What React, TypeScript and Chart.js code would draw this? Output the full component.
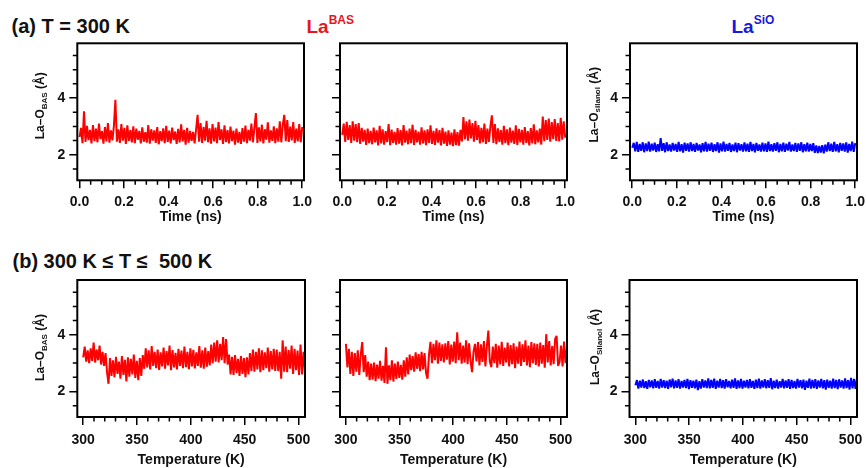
import React, { useEffect, useRef } from 'react';
import { Chart, registerables } from 'chart.js';

Chart.register(...registerables);

const FONT = 'Arial, "Liberation Sans", Helvetica, sans-serif';
const RED = '#ff0000';
const BLUE = '#0000ff';

// ---- sampling grids (MD frames) ----
const SAMPLES = 150;
const timeNs = Array.from({ length: SAMPLES }, (_, i) => i / (SAMPLES - 1));
const temperatureK = Array.from({ length: SAMPLES }, (_, i) => 300 + (206 * i) / (SAMPLES - 1));

// ---- axis ticks ----
const timeMajorTicks = [0, 0.2, 0.4, 0.6, 0.8, 1.0];
const timeMinorTicks = [0.05, 0.1, 0.15, 0.25, 0.3, 0.35, 0.45, 0.5, 0.55, 0.65, 0.7, 0.75, 0.85, 0.9, 0.95];
const tempMajorTicks = [300, 350, 400, 450, 500];
const tempMinorTicks = [310, 320, 330, 340, 360, 370, 380, 390, 410, 420, 430, 440, 460, 470, 480, 490];
const distMajorTicks = [2, 4];
const distMinorTicks = [1.5, 2.5, 3, 3.5, 4.5, 5, 5.5];

// ---- (a) T = 300 K, La–O distances (Å) ----
const basSite1At300K = [
  2.62, 2.95, 2.41, 3.53, 2.45, 3.02, 2.52, 2.88, 2.40, 3.05,
  2.48, 2.92, 2.44, 3.10, 2.55, 2.83, 2.39, 2.98, 2.47, 3.12,
  2.43, 2.86, 2.51, 3.02, 3.94, 2.46, 2.90, 2.42, 3.08, 2.50,
  2.95, 2.38, 3.04, 2.49, 2.87, 2.44, 3.00, 2.41, 2.92, 2.53,
  2.84, 2.40, 2.97, 2.46, 2.80, 2.43, 3.05, 2.39, 2.90, 2.50,
  2.86, 2.42, 2.98, 2.37, 2.83, 2.48, 2.93, 2.41, 3.02, 2.45,
  2.85, 2.40, 2.96, 2.52, 2.82, 2.38, 2.91, 2.44, 3.07, 2.47,
  2.88, 2.36, 2.95, 2.43, 2.84, 2.49, 2.81, 2.40, 2.90, 3.41,
  2.46, 3.12, 2.42, 2.98, 2.50, 3.20, 2.44, 2.93, 2.39, 3.08,
  2.47, 2.96, 2.41, 3.15, 2.52, 2.90, 2.38, 3.04, 2.45, 2.87,
  2.40, 2.99, 2.48, 2.85, 2.36, 2.92, 2.43, 2.81, 2.38, 2.94,
  2.46, 3.03, 2.41, 2.88, 2.50, 3.10, 2.44, 2.95, 3.47, 2.42,
  2.97, 2.47, 3.06, 2.40, 2.90, 2.53, 3.14, 2.43, 2.86, 2.49,
  3.00, 2.41, 2.93, 2.46, 3.18, 2.44, 3.05, 3.41, 2.48, 3.22,
  2.45, 2.99, 2.51, 3.15, 2.42, 2.92, 2.47, 3.08, 2.44, 2.98,
];

const basSite2At300K = [
  2.70, 3.10, 2.45, 3.16, 2.52, 3.05, 2.42, 3.18, 2.50, 3.08,
  2.44, 3.12, 2.38, 2.95, 2.46, 2.88, 2.35, 2.92, 2.41, 2.84,
  2.37, 2.96, 2.44, 2.86, 2.33, 3.02, 2.40, 2.90, 2.36, 2.83,
  2.45, 3.08, 2.34, 2.89, 2.42, 2.81, 2.36, 2.94, 2.39, 2.87,
  2.33, 3.05, 2.43, 2.85, 2.37, 2.92, 2.41, 3.06, 2.35, 2.88,
  2.44, 2.82, 2.36, 2.97, 2.40, 2.86, 2.34, 2.90, 2.42, 3.04,
  2.38, 2.84, 2.35, 2.93, 2.43, 2.87, 2.33, 2.95, 2.39, 2.82,
  2.31, 2.86, 2.36, 2.78, 2.30, 2.90, 2.34, 2.80, 2.32, 2.88,
  2.47, 3.33, 2.55, 3.18, 2.50, 3.24, 2.58, 3.12, 2.46, 3.20,
  2.52, 3.05, 2.40, 2.95, 2.44, 3.10, 2.38, 2.92, 2.45, 3.00,
  3.39, 2.42, 3.08, 2.37, 2.93, 2.45, 2.87, 2.36, 3.02, 2.41,
  2.90, 2.34, 2.96, 2.43, 2.85, 2.38, 3.04, 2.35, 2.91, 2.44,
  2.88, 2.36, 2.98, 2.42, 2.83, 2.33, 2.94, 2.40, 3.07, 2.37,
  2.86, 2.44, 2.92, 2.36, 3.35, 2.48, 3.22, 2.52, 3.28, 2.46,
  3.15, 2.55, 3.26, 2.49, 3.12, 2.47, 3.30, 2.53, 3.18, 2.60,
];

const silanolAt300K = [
  2.25, 2.42, 2.12, 2.45, 2.10, 2.38, 2.14, 2.44, 2.09, 2.40,
  2.13, 2.46, 2.11, 2.39, 2.15, 2.43, 2.10, 2.37, 2.12, 2.59,
  2.14, 2.41, 2.09, 2.44, 2.13, 2.36, 2.11, 2.42, 2.15, 2.38,
  2.10, 2.45, 2.12, 2.37, 2.08, 2.43, 2.14, 2.40, 2.11, 2.44,
  2.13, 2.38, 2.10, 2.42, 2.15, 2.36, 2.09, 2.41, 2.12, 2.45,
  2.11, 2.39, 2.14, 2.43, 2.10, 2.37, 2.13, 2.44, 2.08, 2.40,
  2.12, 2.46, 2.11, 2.38, 2.14, 2.42, 2.10, 2.36, 2.13, 2.43,
  2.09, 2.41, 2.15, 2.37, 2.11, 2.44, 2.12, 2.39, 2.10, 2.45,
  2.13, 2.38, 2.09, 2.42, 2.14, 2.36, 2.11, 2.43, 2.12, 2.40,
  2.10, 2.46, 2.13, 2.37, 2.11, 2.41, 2.14, 2.44, 2.09, 2.38,
  2.12, 2.43, 2.10, 2.39, 2.15, 2.45, 2.11, 2.36, 2.13, 2.42,
  2.10, 2.40, 2.14, 2.44, 2.09, 2.37, 2.12, 2.43, 2.11, 2.38,
  2.13, 2.41, 2.07, 2.33, 2.06, 2.31, 2.08, 2.34, 2.05, 2.36,
  2.11, 2.44, 2.13, 2.39, 2.10, 2.45, 2.12, 2.37, 2.09, 2.42,
  2.14, 2.40, 2.11, 2.44, 2.08, 2.38, 2.13, 2.46, 2.10, 2.41,
];

// ---- (b) 300 K ≤ T ≤ 500 K, La–O distances (Å) ----
const basSite1Heating = [
  3.20, 3.58, 3.05, 3.45, 3.00, 3.52, 3.08, 3.72, 3.02, 3.48,
  3.10, 3.62, 2.95, 3.40, 2.90, 3.35, 2.68, 2.27, 3.18, 2.55,
  3.10, 2.50, 3.22, 2.62, 3.05, 2.45, 3.25, 2.58, 3.12, 2.35,
  3.20, 2.52, 3.15, 2.60, 3.30, 2.48, 3.08, 2.40, 3.18, 2.55,
  3.28, 2.80, 3.52, 2.85, 3.45, 2.78, 3.60, 2.90, 3.40, 2.82,
  3.48, 2.76, 3.38, 2.88, 3.55, 2.80, 3.42, 2.92, 3.62, 2.75,
  3.46, 2.85, 3.36, 2.78, 3.50, 2.90, 3.44, 2.82, 3.58, 2.86,
  3.40, 2.79, 3.52, 2.88, 3.47, 2.81, 3.38, 2.90, 3.60, 2.84,
  3.45, 2.80, 3.55, 2.87, 3.42, 2.92, 3.65, 3.00, 3.72, 3.05,
  3.80, 3.02, 3.68, 3.10, 3.92, 3.00, 3.85, 2.95, 3.30, 2.60,
  3.22, 2.58, 3.28, 2.65, 3.15, 2.55, 3.25, 2.62, 3.18, 2.50,
  3.20, 2.60, 3.35, 2.72, 3.48, 2.70, 3.40, 2.78, 3.52, 2.68,
  3.45, 2.75, 3.38, 2.82, 3.55, 2.70, 3.42, 2.78, 3.50, 2.72,
  3.48, 2.72, 3.40, 2.45, 3.80, 2.70, 3.58, 2.68, 3.46, 2.80,
  3.62, 2.62, 3.50, 2.75, 3.44, 2.58, 3.65, 2.60, 3.40, 2.70,
];

const basSite2Heating = [
  3.68, 2.85, 3.50, 2.62, 3.40, 2.55, 3.35, 2.70, 3.45, 2.58,
  3.30, 3.74, 2.68, 3.28, 2.52, 3.05, 2.40, 2.98, 2.42, 3.02,
  2.36, 2.95, 2.45, 3.08, 2.38, 2.90, 2.30, 3.56, 2.27, 2.92,
  2.40, 3.10, 2.35, 2.98, 2.44, 3.05, 2.48, 2.94, 2.42, 3.10,
  2.52, 3.20, 2.60, 3.30, 2.75, 3.25, 2.70, 3.38, 2.80, 3.32,
  2.72, 3.40, 2.78, 3.35, 2.65, 2.45, 3.30, 3.75, 3.00, 3.68,
  3.10, 3.80, 2.98, 3.72, 3.08, 3.66, 3.02, 3.70, 3.12, 3.78,
  2.95, 3.65, 3.05, 3.76, 3.00, 4.09, 3.10, 3.72, 2.98, 3.62,
  3.02, 3.80, 2.96, 3.70, 3.08, 2.68, 3.40, 3.68, 3.06, 3.74,
  2.92, 3.66, 3.04, 3.78, 2.88, 3.60, 4.15, 3.05, 2.86, 3.58,
  3.00, 3.68, 2.84, 3.62, 2.95, 3.75, 2.90, 3.55, 3.02, 3.72,
  2.88, 3.64, 2.96, 3.70, 2.82, 3.58, 2.98, 3.76, 2.90, 3.66,
  3.04, 3.80, 2.92, 3.62, 2.86, 3.74, 3.00, 3.70, 2.94, 3.68,
  2.88, 3.72, 2.98, 3.64, 2.84, 4.02, 3.02, 3.78, 2.92, 3.60,
  2.96, 3.85, 3.96, 2.90, 3.04, 3.62, 2.88, 3.76, 3.00, 3.55,
];

const silanolHeating = [
  2.22, 2.40, 2.10, 2.38, 2.14, 2.42, 2.12, 2.36, 2.09, 2.41,
  2.15, 2.39, 2.11, 2.43, 2.13, 2.37, 2.10, 2.44, 2.14, 2.40,
  2.12, 2.38, 2.09, 2.42, 2.15, 2.45, 2.11, 2.39, 2.13, 2.43,
  2.10, 2.37, 2.14, 2.41, 2.12, 2.44, 2.08, 2.40, 2.13, 2.38,
  2.11, 2.42, 2.05, 2.36, 2.10, 2.43, 2.14, 2.39, 2.12, 2.46,
  2.11, 2.41, 2.13, 2.45, 2.09, 2.38, 2.14, 2.44, 2.12, 2.40,
  2.10, 2.43, 2.15, 2.37, 2.11, 2.42, 2.13, 2.46, 2.09, 2.39,
  2.12, 2.44, 2.10, 2.38, 2.14, 2.41, 2.11, 2.43, 2.13, 2.37,
  2.09, 2.42, 2.12, 2.45, 2.10, 2.39, 2.14, 2.43, 2.11, 2.40,
  2.13, 2.47, 2.08, 2.38, 2.12, 2.42, 2.10, 2.36, 2.14, 2.44,
  2.11, 2.39, 2.13, 2.43, 2.09, 2.41, 2.12, 2.37, 2.10, 2.44,
  2.14, 2.40, 2.11, 2.42, 2.06, 2.38, 2.13, 2.45, 2.10, 2.41,
  2.12, 2.43, 2.09, 2.39, 2.14, 2.44, 2.11, 2.40, 2.07, 2.42,
  2.13, 2.38, 2.10, 2.45, 2.12, 2.41, 2.08, 2.43, 2.14, 2.39,
  2.10, 2.46, 2.12, 2.40, 2.07, 2.48, 2.11, 2.44, 2.09, 2.47,
];

type Kind = 'time' | 'temp';

interface PanelSpec {
  xs: number[];
  ys: number[];
  color: string;
  kind: Kind;
  ySub: string | null;
  box: [number, number, number, number]; // canvas left, top, width, height (page px)
  frame: [number, number, number, number]; // plot frame left, top, right, bottom (page px)
  titleDy: number;
  xTitleOffset: number;
  xPad: number;
  yTitleOffset: number;
}

const AXIS_RANGE = {
  time: { min: -0.01, max: 1.008 },
  temp: { min: 294.5, max: 506 },
};

function drawYTitle(ctx: CanvasRenderingContext2D, cx: number, cy: number, sub: string) {
  const main = 'La–O';
  const tail = ' (Å)';
  const fMain = `bold 12px ${FONT}`;
  const fSub = `bold 8px ${FONT}`;
  ctx.font = fMain;
  const w1 = ctx.measureText(main).width;
  const w3 = ctx.measureText(tail).width;
  ctx.font = fSub;
  const w2 = ctx.measureText(sub).width;
  const total = w1 + w2 + w3;
  ctx.save();
  ctx.translate(cx, cy);
  ctx.rotate(-Math.PI / 2);
  ctx.fillStyle = '#111';
  ctx.textAlign = 'left';
  ctx.textBaseline = 'alphabetic';
  let x = -total / 2;
  const base = 4.3;
  ctx.font = fMain;
  ctx.fillText(main, x, base);
  x += w1;
  ctx.font = fSub;
  ctx.fillText(sub, x, base + 2.5);
  x += w2;
  ctx.font = fMain;
  ctx.fillText(tail, x, base);
  ctx.restore();
}

function Panel({ spec }: { spec: PanelSpec }) {
  const ref = useRef<HTMLCanvasElement | null>(null);
  const [bx, by, bw, bh] = spec.box;
  const [fl, ft, fr, fb] = spec.frame;

  useEffect(() => {
    const canvas = ref.current;
    if (!canvas) return;
    const yAxisW = fl - bx;
    const xAxisH = by + bh - fb;
    const padTop = ft - by;
    const padRight = bx + bw - fr;
    const majorsX = spec.kind === 'time' ? timeMajorTicks : tempMajorTicks;
    const minorsX = spec.kind === 'time' ? timeMinorTicks : tempMinorTicks;
    const range = AXIS_RANGE[spec.kind];
    const showYLabels = spec.ySub !== null;
    const xTitle = spec.kind === 'time' ? 'Time (ns)' : 'Temperature (K)';

    const framePlugin = {
      id: 'frameAndTitles',
      afterDraw(chart: any) {
        const { ctx, chartArea: a, scales } = chart;
        ctx.save();
        ctx.strokeStyle = '#000';
        ctx.lineWidth = 2;
        ctx.strokeRect(a.left, a.top, a.right - a.left, a.bottom - a.top);
        ctx.lineWidth = 1.5;
        ctx.beginPath();
        minorsX.forEach((v) => {
          const p = scales.x.getPixelForValue(v);
          ctx.moveTo(p, a.bottom);
          ctx.lineTo(p, a.bottom + 4.5);
        });
        distMinorTicks.forEach((v) => {
          const p = scales.y.getPixelForValue(v);
          ctx.moveTo(a.left, p);
          ctx.lineTo(a.left - 4.5, p);
        });
        ctx.stroke();
        ctx.fillStyle = '#111';
        ctx.font = `bold 14px ${FONT}`;
        ctx.textAlign = 'center';
        ctx.textBaseline = 'middle';
        ctx.fillText(xTitle, (a.left + a.right) / 2, a.bottom + spec.xTitleOffset);
        if (spec.ySub) {
          drawYTitle(ctx, a.left - spec.yTitleOffset, (a.top + a.bottom) / 2 + spec.titleDy, spec.ySub);
        }
        ctx.restore();
      },
    };

    const tickFont = { family: FONT, size: 14, weight: 'bold' as const };
    const chart = new Chart(canvas, {
      type: 'line',
      data: {
        datasets: [
          {
            data: spec.xs.map((x, i) => ({ x, y: spec.ys[i] })),
            borderColor: spec.color,
            borderWidth: 2,
            borderJoinStyle: 'bevel',
            pointRadius: 0,
            tension: 0,
            fill: false,
          },
        ],
      },
      options: {
        animation: false,
        responsive: false,
        maintainAspectRatio: false,
        events: [],
        layout: { padding: { left: 0, top: padTop, right: padRight, bottom: 0 } },
        plugins: {
          legend: { display: false },
          tooltip: { enabled: false },
          title: { display: false },
        },
        scales: {
          x: {
            type: 'linear',
            min: range.min,
            max: range.max,
            afterBuildTicks: (s: any) => {
              s.ticks = majorsX.map((v) => ({ value: v }));
            },
            afterFit: (s: any) => {
              s.height = xAxisH;
              s.paddingLeft = 0;
              s.paddingRight = 0;
            },
            border: { display: false },
            grid: {
              display: true,
              drawOnChartArea: false,
              drawTicks: true,
              tickLength: 8,
              color: '#000',
              lineWidth: 1.5,
            },
            ticks: {
              color: '#111',
              font: tickFont,
              padding: spec.xPad,
              maxRotation: 0,
              autoSkip: false,
              callback: (v: any) => (spec.kind === 'time' ? Number(v).toFixed(1) : String(v)),
            },
          },
          y: {
            type: 'linear',
            min: 1.1,
            max: 5.93,
            afterBuildTicks: (s: any) => {
              s.ticks = distMajorTicks.map((v) => ({ value: v }));
            },
            afterFit: (s: any) => {
              s.width = yAxisW;
              s.paddingTop = 0;
              s.paddingBottom = 0;
            },
            border: { display: false },
            grid: {
              display: true,
              drawOnChartArea: false,
              drawTicks: true,
              tickLength: 8,
              color: '#000',
              lineWidth: 1.5,
            },
            ticks: {
              color: '#111',
              font: tickFont,
              padding: 4,
              autoSkip: false,
              callback: (v: any) => (showYLabels ? String(v) : ''),
            },
          },
        },
      },
      plugins: [framePlugin],
    });
    return () => chart.destroy();
  }, [spec]);

  return (
    <canvas
      ref={ref}
      width={bw}
      height={bh}
      style={{ position: 'absolute', left: bx, top: by, width: bw, height: bh }}
    />
  );
}

const ROW1_FRAME = { t: 43.3, b: 180.3 };
const ROW2_FRAME = { t: 280, b: 417 };

const panels: PanelSpec[] = [
  {
    xs: timeNs, ys: basSite1At300K, color: RED, kind: 'time', ySub: 'BAS',
    box: [0, 35, 320, 197], frame: [77.3, ROW1_FRAME.t, 304, ROW1_FRAME.b],
    titleDy: -6, xTitleOffset: 37, xPad: 5, yTitleOffset: 37.5,
  },
  {
    xs: timeNs, ys: basSite2At300K, color: RED, kind: 'time', ySub: null,
    box: [320, 35, 260, 197], frame: [340, ROW1_FRAME.t, 567, ROW1_FRAME.b],
    titleDy: -6, xTitleOffset: 37, xPad: 5, yTitleOffset: 37.5,
  },
  {
    xs: timeNs, ys: silanolAt300K, color: BLUE, kind: 'time', ySub: 'silanol',
    box: [580, 35, 286, 197], frame: [630, ROW1_FRAME.t, 857, ROW1_FRAME.b],
    titleDy: -7, xTitleOffset: 37, xPad: 5, yTitleOffset: 36.5,
  },
  {
    xs: temperatureK, ys: basSite1Heating, color: RED, kind: 'temp', ySub: 'BAS',
    box: [0, 270, 320, 198], frame: [77.3, ROW2_FRAME.t, 305, ROW2_FRAME.b],
    titleDy: -1, xTitleOffset: 43, xPad: 6.5, yTitleOffset: 37.5,
  },
  {
    xs: temperatureK, ys: basSite2Heating, color: RED, kind: 'temp', ySub: null,
    box: [320, 270, 260, 198], frame: [340, ROW2_FRAME.t, 567, ROW2_FRAME.b],
    titleDy: -1, xTitleOffset: 43, xPad: 6.5, yTitleOffset: 37.5,
  },
  {
    xs: temperatureK, ys: silanolHeating, color: BLUE, kind: 'temp', ySub: 'Silanol',
    box: [580, 270, 286, 198], frame: [629.5, ROW2_FRAME.t, 857, ROW2_FRAME.b],
    titleDy: -1.5, xTitleOffset: 43, xPad: 6.5, yTitleOffset: 34.5,
  },
];

const headStyle: React.CSSProperties = {
  position: 'absolute',
  fontFamily: FONT,
  fontWeight: 'bold',
  lineHeight: 1,
  whiteSpace: 'pre',
  color: '#111',
};

export default function App() {
  return (
    <div
      style={{
        position: 'absolute',
        left: 0,
        top: 0,
        width: 866,
        height: 468,
        background: '#fff',
        overflow: 'hidden',
      }}
    >
      <div style={{ ...headStyle, left: 11.5, top: 15.5, fontSize: 20 }}>(a) T = 300 K</div>
      <div style={{ ...headStyle, left: 306.5, top: 16.5, fontSize: 19, color: '#e3181e' }}>
        La<span style={{ fontSize: 12, position: 'relative', top: -9 }}>BAS</span>
      </div>
      <div style={{ ...headStyle, left: 731.5, top: 16.5, fontSize: 19, color: '#1818e0' }}>
        La<span style={{ fontSize: 12, position: 'relative', top: -9 }}>SiO</span>
      </div>
      <div style={{ ...headStyle, left: 12.5, top: 250.5, fontSize: 20 }}>{'(b) 300 K ≤ T ≤  500 K'}</div>
      {panels.map((p, i) => (
        <Panel key={i} spec={p} />
      ))}
    </div>
  );
}
